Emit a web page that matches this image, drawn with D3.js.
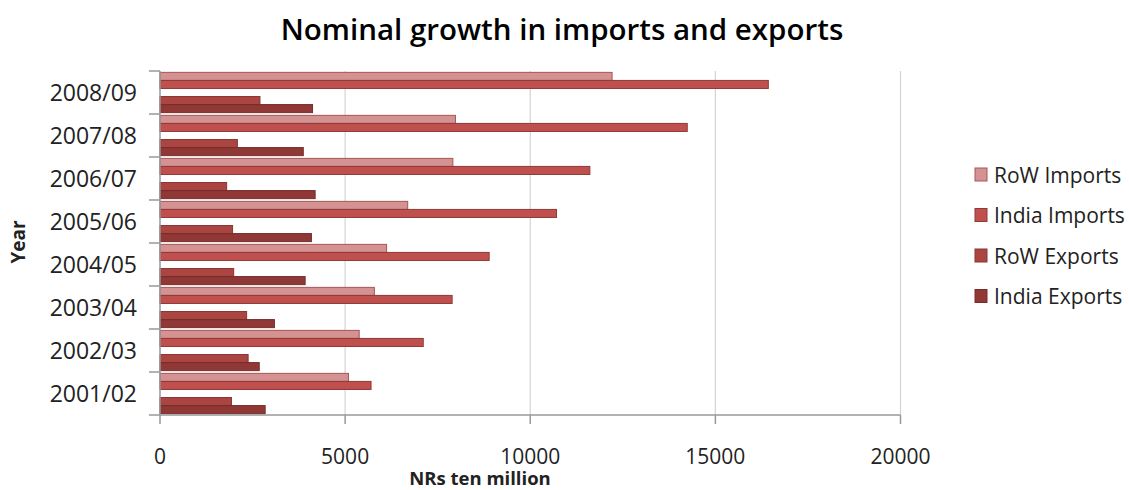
<!DOCTYPE html>
<html>
<head>
<meta charset="utf-8">
<script src="https://cdn.jsdelivr.net/npm/d3@7"></script>
<style>
  body { margin: 0; background: #fff; }
  text { font-family: "Open Sans", "DejaVu Sans", sans-serif; fill: #222; }
</style>
</head>
<body>
<svg id="chart" width="1129" height="490"></svg>
<script>
// data
const years = ['2001/02', '2002/03', '2003/04', '2004/05', '2005/06', '2006/07', '2007/08', '2008/09'];
const rowImports = [5090, 5380, 5790, 6120, 6690, 7910, 7980, 12210];
const indiaImports = [5700, 7110, 7890, 8890, 10710, 11610, 14240, 16430];
const rowExports = [1930, 2380, 2340, 1990, 1960, 1800, 2090, 2700];
const indiaExports = [2840, 2680, 3090, 3920, 4090, 4190, 3870, 4120];
const seriesNames = ['RoW Imports', 'India Imports', 'RoW Exports', 'India Exports'];
const xTicks = [0, 5000, 10000, 15000, 20000];

const series = [
    {name: seriesNames[0], values: rowImports, fill: '#d49292', stroke: '#a45756'},
    {name: seriesNames[1], values: indiaImports, fill: '#c0504d', stroke: '#8e3a38'},
    {name: seriesNames[2], values: rowExports, fill: '#ab4542', stroke: '#8a3533'},
    {name: seriesNames[3], values: indiaExports, fill: '#8f3836', stroke: '#772d2b'}
];

let svg = d3.select('#chart');
let margin = {left: 160, top: 71, right: 229, bottom: 75};

// scales
let x = d3.scaleLinear().domain([0, 20000]).range([margin.left, 900.5]);
let y = d3.scaleBand().domain(years.slice().reverse()).range([margin.top, 415]);
// 5 slots inside a year, middle one stays empty
let inner = d3.scaleBand()
    .domain(['RoW Imports', 'India Imports', 'gap', 'RoW Exports', 'India Exports'])
    .range([0, y.bandwidth()])
    .paddingOuter(0.17);

// gridlines
svg.append('g').selectAll('line')
    .data(xTicks.slice(1))
    .enter().append('line')
    .attr('x1', d => x(d)).attr('x2', d => x(d))
    .attr('y1', margin.top).attr('y2', 415)
    .attr('stroke', '#d4d4d4').attr('stroke-width', 1.2);

// bars
series.forEach(function (s) {
    svg.append('g').selectAll('rect')
        .data(s.values)
        .enter().append('rect')
        .attr('x', x(0))
        .attr('y', (d, i) => y(years[i]) + inner(s.name))
        .attr('width', d => x(d) - x(0))
        .attr('height', inner.bandwidth())
        .attr('fill', s.fill)
        .attr('stroke', s.stroke)
        .attr('stroke-width', 1);
});

// y axis
let yAxis = svg.append('g').attr('transform', 'translate(' + x(0) + ',0)');
yAxis.append('line')
    .attr('x1', 0).attr('x2', 0).attr('y1', margin.top).attr('y2', 415)
    .attr('stroke', '#999').attr('stroke-width', 1.5);
let bounds = years.map(d => y(d)).concat([415]);
yAxis.selectAll('.tk').data(bounds).enter().append('line')
    .attr('x1', -11).attr('x2', 0)
    .attr('y1', d => d).attr('y2', d => d)
    .attr('stroke', '#999').attr('stroke-width', 1.5);
yAxis.selectAll('text').data(years).enter().append('text')
    .attr('x', -23)
    .attr('y', d => y(d) + y.bandwidth() / 2)
    .attr('dy', '0.36em')
    .attr('text-anchor', 'end')
    .style('font-size', '23px')
    .text(d => d);

// x axis
let xAxis = svg.append('g').attr('transform', 'translate(0,415)');
xAxis.append('line')
    .attr('x1', x(0)).attr('x2', x(20000))
    .attr('stroke', '#999').attr('stroke-width', 1.5);
xAxis.selectAll('.tk').data(xTicks).enter().append('line')
    .attr('x1', d => x(d)).attr('x2', d => x(d))
    .attr('y1', 0).attr('y2', 9)
    .attr('stroke', '#999').attr('stroke-width', 1.5);
xAxis.selectAll('text').data(xTicks).enter().append('text')
    .attr('x', d => x(d))
    .attr('y', 49)
    .attr('text-anchor', 'middle')
    .style('font-size', '21px')
    .text(d => d);

// titles
svg.append('text')
    .attr('x', 562).attr('y', 40)
    .attr('text-anchor', 'middle')
    .style('font-size', '29.5px').style('font-weight', 600)
    .style('fill', '#000')
    .text('Nominal growth in imports and exports');
svg.append('text')
    .attr('x', 480).attr('y', 485)
    .attr('text-anchor', 'middle')
    .style('font-size', '18.5px').style('font-weight', 700)
    .text('NRs ten million');
svg.append('text')
    .attr('transform', 'translate(25,242) rotate(-90)')
    .attr('text-anchor', 'middle')
    .style('font-size', '19px').style('font-weight', 700)
    .text('Year');

// legend
let legend = svg.append('g').attr('transform', 'translate(975,175)');
let lg = legend.selectAll('g').data(series).enter().append('g')
    .attr('transform', (d, i) => 'translate(0,' + (i * 40.5) + ')');
lg.append('rect')
    .attr('x', 0).attr('y', -7).attr('width', 12).attr('height', 13)
    .attr('fill', d => d.fill).attr('stroke', d => d.stroke);
lg.append('text')
    .attr('x', 19).attr('y', 0).attr('dy', '0.36em')
    .style('font-size', '21px')
    .text(d => d.name);
</script>
</body>
</html>
